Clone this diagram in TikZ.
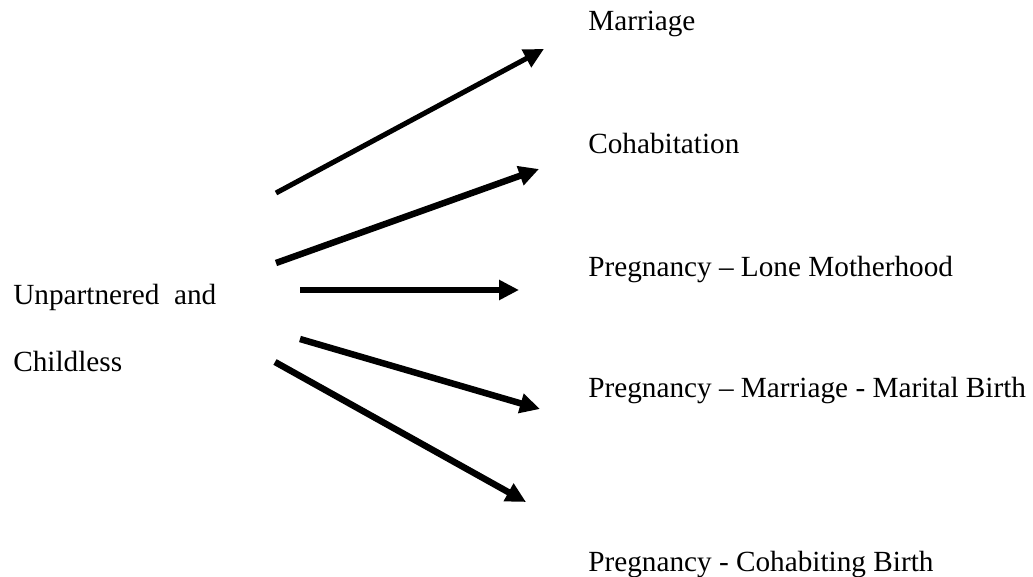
\documentclass[tikz,border=0pt]{standalone}
\usepackage{fontspec}
\setmainfont{Liberation Serif}
\usetikzlibrary{positioning, arrows.meta}

\begin{document}
\begin{tikzpicture}[x=0.025cm, y=-0.025cm,
    state/.style={anchor=base west, inner sep=0pt, font=\fontsize{20.8}{24}\selectfont},
    flow/.style={-{Triangle[length=5mm, width=4.8mm]}, line width=4.6pt}]
    \useasboundingbox (0,0) rectangle (1033,577);

    \node (start) [state] at (13,304) {Unpartnered\ \ and};
    \node (start2) [state] at (13,371) {Childless};

    \node (marriage) [state] at (588,31) {Marriage};
    \node (cohab) [state] at (588,154) {Cohabitation};
    \node (lone) [state] at (588,276) {Pregnancy -- Lone Motherhood};
    \node (marital) [state] at (588,397) {Pregnancy -- Marriage - Marital Birth};
    \node (cohabbirth) [state] at (588,571) {Pregnancy - Cohabiting Birth};

    \coordinate (s1) at (276,193);
    \coordinate (s2) at (276,263);
    \coordinate (s3) at (300,290);
    \coordinate (s4) at (300,339);
    \coordinate (s5) at (275,362);
    \coordinate (t1) at (544,49);
    \coordinate (t2) at (539,169);
    \coordinate (t3) at (519,290);
    \coordinate (t4) at (540,409);
    \coordinate (t5) at (526,502);

    \draw[flow, line width=3.6pt] (s1) -- (t1);
    \draw[flow] (s2) -- (t2);
    \draw[flow] (s3) -- (t3);
    \draw[flow] (s4) -- (t4);
    \draw[flow] (s5) -- (t5);
\end{tikzpicture}
\end{document}
